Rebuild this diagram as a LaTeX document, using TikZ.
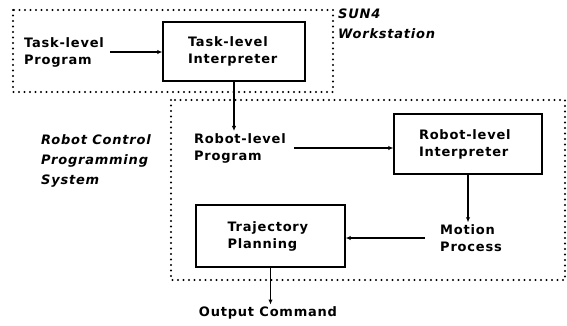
\documentclass[tikz,border=0pt]{standalone}
\usepackage{fontspec}
\newfontfamily\labfont[LetterSpace=6]{DejaVu Sans Bold}
\newfontfamily\itfont[LetterSpace=6]{DejaVu Sans Bold Oblique}
\usetikzlibrary{arrows.meta}
\begin{document}
\begin{tikzpicture}[x=1pt,y=-1pt,
  txt/.style={font=\labfont\fontsize{13}{17}\selectfont, align=left, inner sep=2pt},
  itl/.style={font=\itfont\fontsize{13}{20}\selectfont, align=left, inner sep=0pt, anchor=west},
  blk/.style={txt, draw, line width=1.4pt, anchor=center},
  grp/.style={line width=2.2pt, line cap=round, dash pattern=on 0pt off 5.5pt},
  arr/.style={line width=1.2pt, -{Latex[length=5pt,width=4.5pt]}}]
\useasboundingbox (0,0) rectangle (567,325);
% group frames
\draw[grp] (13,10) rectangle (333,92);
\draw[grp] (171,100) rectangle (565,280);
% nodes
\node[txt] (tlp) at (64,52) {Task-level\\Program};
\node[blk, minimum width=142pt, minimum height=59pt, text width=92pt] (tli) at (234,51.5) {Task-level\\Interpreter};
\node[txt] (rlp) at (240,148) {Robot-level\\Program};
\node[blk, minimum width=148pt, minimum height=60pt, text width=98pt] (rli) at (468,144) {Robot-level\\Interpreter};
\node[txt] (mp) at (471,238) {Motion\\Process};
\node[blk, minimum width=149pt, minimum height=62pt, text width=86pt] (tp) at (270.5,236) {Trajectory\\Planning};
\node[txt] (oc) at (268,313) {Output Command};
\node[itl] (sun) at (338,24) {SUN4\\Workstation};
\node[itl] (rcps) at (41,161) {Robot Control\\Programming\\System};
% connectors
\draw[arr] (tlp.east) ++(4,0) coordinate (ts) (ts) -- (tli.west |- ts);
\draw[arr] (tli.south) -- (tli.south |- rlp.north);
\draw[arr] (rlp.east) ++(6,0) coordinate (rs) (rs) -- (rli.west |- rs);
\draw[arr] (rli.south) -- (rli.south |- mp.north);
\draw[arr] (mp.west) ++(-13,0) coordinate (ms) (ms) -- (tp.east |- ms);
\draw[arr] (tp.south) -- (tp.south |- oc.north);
\end{tikzpicture}
\end{document}
